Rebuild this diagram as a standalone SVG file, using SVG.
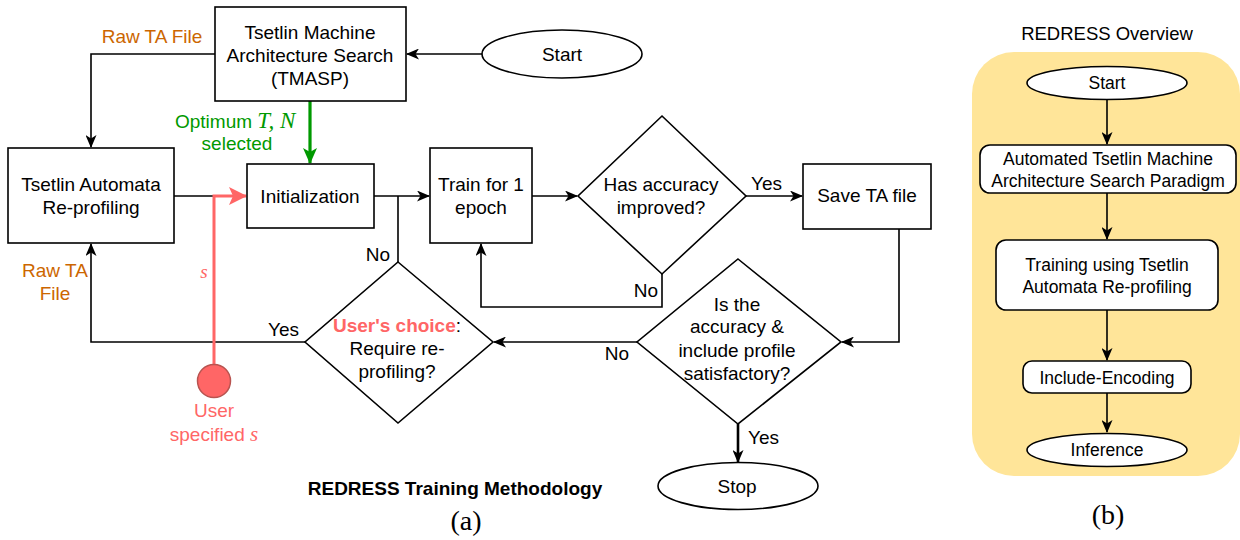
<svg xmlns="http://www.w3.org/2000/svg" width="1240" height="540" viewBox="0 0 1240 540">
<style>
  text { font-family: "Liberation Sans", Arial, sans-serif; fill: #000; }
  .t { font-size: 19px; text-anchor: middle; }
  .r { font-size: 17.5px; text-anchor: middle; }
  .lbl { font-size: 19px; }
  .or { fill: #CC6600; }
  .gr { fill: #009900; }
  .rd { fill: #FF6666; }
  .box { fill: #fff; stroke: #000; stroke-width: 1.6; }
  .rbox { fill: #fff; stroke: #000; stroke-width: 1.6; }
  .ln { fill: none; stroke: #000; stroke-width: 1.6; }
  .math { font-family: "Liberation Serif", "Times New Roman", serif; font-style: italic; }
</style>
<defs>
  <marker id="ah" markerUnits="userSpaceOnUse" markerWidth="13" markerHeight="11" refX="12" refY="5.5" orient="auto">
    <path d="M0,0 L13,5.5 L0,11 L3.5,5.5 Z" fill="#000"/>
  </marker>
  <marker id="ahg" markerUnits="userSpaceOnUse" markerWidth="16" markerHeight="14" refX="15" refY="7" orient="auto">
    <path d="M0,0 L16,7 L0,14 L4,7 Z" fill="#009900"/>
  </marker>
  <marker id="ahr" markerUnits="userSpaceOnUse" markerWidth="18" markerHeight="18" refX="17" refY="9" orient="auto">
    <path d="M0,0 L18,9 L0,18 L4,9 Z" fill="#FF6666"/>
  </marker>
</defs>

<!-- overview background -->
<g id="overview-bg">
  <rect x="972" y="52" width="268" height="424" rx="42" ry="42" fill="#FFE599"/>
  <text x="1107" y="40" font-size="18.5px" text-anchor="middle">REDRESS Overview</text>
</g>

<!-- connectors -->
<g id="connectors">
  <path class="ln" d="M482,54 L407,54" marker-end="url(#ah)"/>
  <path class="ln" d="M215,54 L91,54 L91,147" marker-end="url(#ah)"/>
  <path d="M310,101 L310,163" fill="none" stroke="#009900" stroke-width="3.2" marker-end="url(#ahg)"/>
  <path class="ln" d="M174,196 L214,196"/>
  <path class="ln" d="M374,196 L429,196" marker-end="url(#ah)"/>
  <path class="ln" d="M398,262 L398,196"/>
  <path class="ln" d="M532,196 L577,196" marker-end="url(#ah)"/>
  <path class="ln" d="M746,196 L802,196" marker-end="url(#ah)"/>
  <path class="ln" d="M662,274 L662,307 L481,307 L481,244" marker-end="url(#ah)"/>
  <path class="ln" d="M899,229 L899,342 L842,342" marker-end="url(#ah)"/>
  <path class="ln" d="M637,342 L494,342" marker-end="url(#ah)"/>
  <path d="M738,424 L738,462" fill="none" stroke="#000" stroke-width="2.6" marker-end="url(#ah)"/>
  <path class="ln" d="M305,342 L91,342 L91,244" marker-end="url(#ah)"/>
  <path d="M214,364 L214,196 L246,196" fill="none" stroke="#FF6666" stroke-width="3" marker-end="url(#ahr)"/>
  <!-- overview arrows -->
  <path class="ln" d="M1107,100 L1107,144" marker-end="url(#ah)"/>
  <path class="ln" d="M1107,193 L1107,239" marker-end="url(#ah)"/>
  <path class="ln" d="M1107,310 L1107,360" marker-end="url(#ah)"/>
  <path class="ln" d="M1107,393 L1107,432" marker-end="url(#ah)"/>
</g>

<!-- edge labels -->
<g id="edge-labels">
  <text class="lbl or" x="152" y="43" text-anchor="middle">Raw TA File</text>
  <text class="lbl gr" x="175" y="128">Optimum <tspan class="math" font-size="23px">T</tspan><tspan class="math" font-size="23px" font-style="normal">, </tspan><tspan class="math" font-size="23px">N</tspan></text>
  <text class="lbl gr" x="237" y="150" text-anchor="middle">selected</text>
  <text class="lbl rd math" x="204" y="278" text-anchor="middle" font-size="20px">s</text>
  <text class="lbl or" x="55" y="277" text-anchor="middle">Raw TA</text>
  <text class="lbl or" x="55" y="300" text-anchor="middle">File</text>
  <text class="lbl" x="299" y="336" text-anchor="end">Yes</text>
  <text class="lbl" x="390" y="261" text-anchor="end">No</text>
  <text class="lbl" x="751" y="190">Yes</text>
  <text class="lbl" x="658" y="297" text-anchor="end">No</text>
  <text class="lbl" x="629" y="360" text-anchor="end">No</text>
  <text class="lbl" x="748" y="444">Yes</text>
</g>

<g id="start">
  <ellipse class="box" cx="562" cy="54" rx="80" ry="24"/>
  <text class="t" x="562" y="61">Start</text>
</g>
<g id="tmasp">
  <rect class="box" x="215" y="7" width="191" height="94"/>
  <text class="t" x="310" y="39">Tsetlin Machine</text>
  <text class="t" x="310" y="62">Architecture Search</text>
  <text class="t" x="310" y="85">(TMASP)</text>
</g>
<g id="ta-reprofiling">
  <rect class="box" x="8" y="148" width="166" height="95"/>
  <text class="t" x="91" y="191">Tsetlin Automata</text>
  <text class="t" x="91" y="214">Re-profiling</text>
</g>
<g id="initialization">
  <rect class="box" x="247" y="164" width="127" height="64"/>
  <text class="t" x="310" y="203">Initialization</text>
</g>
<g id="train">
  <rect class="box" x="430" y="148" width="102" height="95"/>
  <text class="t" x="481" y="191">Train for 1</text>
  <text class="t" x="481" y="214">epoch</text>
</g>
<g id="has-accuracy">
  <path class="box" d="M662,116 L746,196 L662,274 L578,196 Z"/>
  <text class="t" x="661" y="191">Has accuracy</text>
  <text class="t" x="661" y="214">improved?</text>
</g>
<g id="save-ta">
  <rect class="box" x="803" y="164" width="128" height="65"/>
  <text class="t" x="867" y="202">Save TA file</text>
</g>
<g id="is-satisfactory">
  <path class="box" d="M738,259 L841,342 L738,424 L637,342 Z"/>
  <text class="t" x="737" y="311">Is the</text>
  <text class="t" x="737" y="333">accuracy &amp;</text>
  <text class="t" x="737" y="357">include profile</text>
  <text class="t" x="737" y="380">satisfactory?</text>
</g>
<g id="users-choice">
  <path class="box" d="M398,262 L493,342 L398,423 L305,342 Z"/>
  <text class="t" x="397" y="332"><tspan fill="#FF6666" font-weight="bold">User's choice</tspan>:</text>
  <text class="t" x="397" y="355">Require re-</text>
  <text class="t" x="397" y="378">profiling?</text>
</g>
<g id="stop">
  <ellipse class="box" cx="738" cy="486" rx="80" ry="23.5"/>
  <text class="t" x="737" y="493">Stop</text>
</g>
<g id="user-specified">
  <circle cx="214" cy="381" r="16.5" fill="#FF6666" stroke="#B85450" stroke-width="1.5"/>
  <text class="t rd" x="214" y="417">User</text>
  <text class="t rd" x="214" y="441">specified <tspan class="math" font-size="21px">s</tspan></text>
</g>

<g id="caption-a">
  <text x="455" y="495" font-size="19px" font-weight="bold" text-anchor="middle">REDRESS Training Methodology</text>
  <text x="466" y="530" font-size="28px" text-anchor="middle" style="font-family:'Liberation Serif','Times New Roman',serif">(a)</text>
</g>

<g id="ov-start">
  <ellipse class="box" cx="1107" cy="83" rx="80" ry="16.5"/>
  <text class="r" x="1107" y="89">Start</text>
</g>
<g id="ov-automated">
  <rect class="rbox" x="980" y="145" width="256" height="48" rx="10"/>
  <text class="r" x="1108" y="165">Automated Tsetlin Machine</text>
  <text class="r" x="1108" y="187">Architecture Search Paradigm</text>
</g>
<g id="ov-training">
  <rect class="rbox" x="996" y="240" width="222" height="70" rx="10"/>
  <text class="r" x="1107" y="271">Training using Tsetlin</text>
  <text class="r" x="1107" y="293">Automata Re-profiling</text>
</g>
<g id="ov-include">
  <rect class="rbox" x="1023" y="361" width="168" height="32" rx="9"/>
  <text class="r" x="1107" y="384">Include-Encoding</text>
</g>
<g id="ov-inference">
  <ellipse class="box" cx="1107" cy="450" rx="80" ry="16.5"/>
  <text class="r" x="1107" y="456">Inference</text>
</g>
<g id="caption-b">
  <text x="1108" y="524" font-size="28px" text-anchor="middle" style="font-family:'Liberation Serif','Times New Roman',serif">(b)</text>
</g>
</svg>
